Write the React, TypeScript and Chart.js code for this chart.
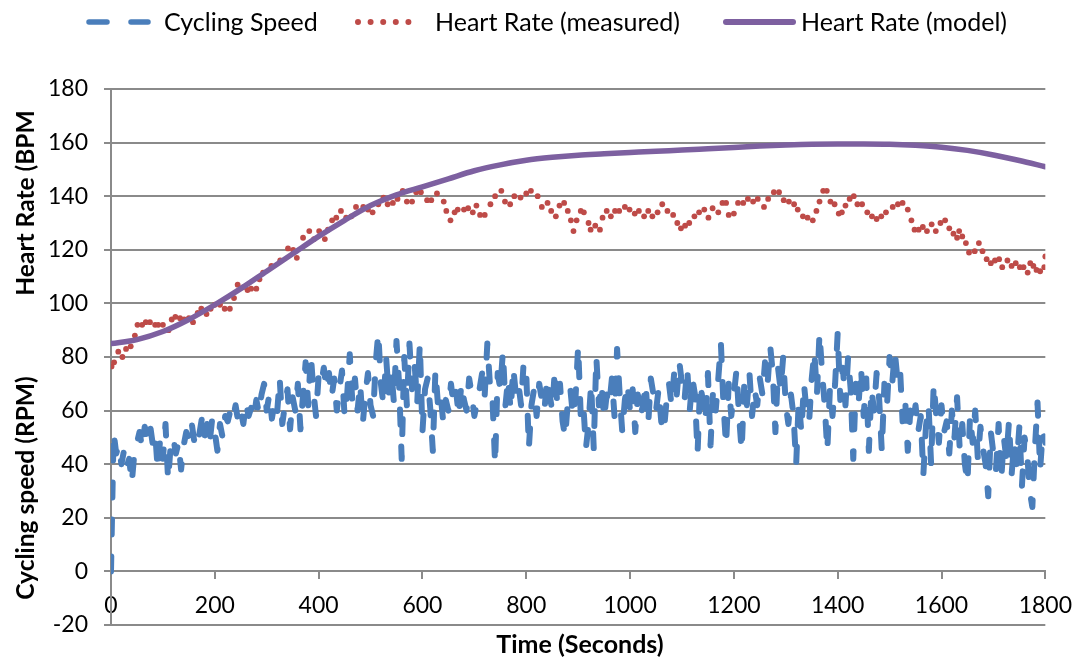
import React, { useEffect, useRef } from "react";
import { Chart, registerables } from "chart.js";

Chart.register(...registerables);

// ---------- DATA ----------
const speedStep = 5; // seconds between cycling-speed samples
const cyclingSpeed = [
  0, 52, 44, 47, 40, 45, 39, 42, 33, 44, 48, 52,
  46, 54, 50, 55, 48, 52, 38, 50, 42, 55, 34, 47,
  50, 44, 48, 38, 47, 52, 50, 56, 49, 54, 51, 57,
  50, 55, 48, 57, 52, 45, 55, 50, 58, 56, 60, 57,
  62, 56, 60, 55, 63, 58, 61, 57, 64, 59, 66, 70,
  60, 66, 57, 63, 59, 72, 55, 62, 68, 53, 65, 60,
  70, 53, 66, 78, 62, 81, 67, 58, 73, 70, 76, 68,
  74, 65, 72, 60, 68, 75, 58, 66, 81, 63, 72, 60,
  70, 55, 66, 74, 62, 58, 78, 89, 70, 62, 80, 66,
  75, 63, 86, 70, 42, 80, 62, 85, 68, 77, 63, 85,
  52, 68, 72, 61, 45, 75, 62, 66, 56, 64, 60, 70,
  62, 67, 58, 70, 64, 60, 72, 66, 58, 63, 68, 74,
  66, 85, 70, 64, 40, 74, 68, 82, 62, 72, 60, 76,
  66, 70, 62, 78, 74, 46, 62, 68, 58, 70, 64, 60,
  72, 66, 60, 75, 62, 70, 56, 50, 63, 68, 58, 65,
  84, 58, 62, 46, 55, 70, 46, 80, 62, 70, 57, 66,
  62, 72, 58, 83, 66, 52, 64, 70, 60, 68, 52, 66,
  58, 62, 70, 55, 72, 66, 60, 68, 56, 52, 63, 70,
  62, 74, 66, 78, 70, 64, 76, 60, 72, 66, 44, 70,
  64, 56, 74, 47, 68, 60, 72, 85, 62, 47, 70, 58,
  66, 75, 58, 45, 70, 62, 74, 58, 68, 62, 72, 66,
  78, 70, 84, 74, 52, 76, 68, 80, 62, 55, 66, 58,
  40, 64, 52, 70, 60, 56, 72, 82, 66, 89, 74, 62,
  45, 68, 58, 70, 89, 64, 76, 62, 80, 68, 42, 70,
  62, 76, 58, 72, 45, 68, 60, 74, 64, 45, 70, 62,
  80, 70, 82, 72, 76, 56, 64, 45, 60, 55, 62, 52,
  58, 36, 54, 62, 40, 70, 58, 48, 62, 52, 56, 44,
  60, 50, 65, 46, 55, 40, 33, 58, 48, 60, 42, 54,
  46, 40, 28, 52, 44, 38, 55, 34, 50, 42, 56, 36,
  48, 40, 54, 32, 50, 44, 30, 24, 46, 63, 38, 52,
  48,
];

const hrTimes = [
  1, 6, 14, 22, 29, 38, 46, 51, 60, 67, 75, 85, 91, 100, 111, 117, 124, 133, 141, 150,
  158, 167, 174, 184, 192, 200, 210, 219, 229, 237, 244, 254, 263, 270, 280, 286, 293,
  309, 326, 341, 351, 358, 370, 382, 391, 401, 412, 418, 426, 434, 443, 453, 463, 472,
  486, 495, 504, 515, 525, 533, 543, 552, 562, 570, 580, 588,
  597, 609, 617, 628, 641, 646, 654, 662, 668, 680, 688, 697, 704, 711, 720, 731, 740,
  752, 759, 769, 777, 789, 800, 809, 822, 830, 841, 848, 857, 864, 873, 880, 886, 891,
  897, 905, 911, 920, 924, 933, 942, 947, 955, 963, 971, 979, 990, 999, 1009, 1017,
  1027, 1035, 1043, 1053, 1062, 1072, 1083, 1091, 1098, 1106, 1114, 1124, 1133, 1143,
  1151, 1159, 1170, 1178, 1185,
  1190, 1200, 1208, 1218, 1227, 1237, 1246, 1258, 1266, 1277, 1287, 1296, 1306, 1316,
  1323, 1333, 1342, 1352, 1359, 1365, 1372, 1379, 1386, 1394, 1402, 1408, 1415, 1423,
  1431, 1438, 1447, 1457, 1466, 1475, 1484,
  1493, 1506, 1516, 1525, 1535, 1542, 1548, 1556, 1564, 1572, 1581, 1589, 1598, 1607,
  1615, 1623, 1630, 1634, 1640, 1647, 1653, 1664, 1672, 1679, 1687, 1695, 1703, 1711,
  1717, 1727, 1735, 1743, 1751, 1758, 1766, 1771, 1777, 1783, 1790, 1798, 1800,
];

const hrMeasured = [
  76.5, 78, 82, 80, 83, 84, 88, 92, 92, 93, 93, 92, 92, 92, 90, 94, 95, 94.5, 94, 94.5,
  93, 96.5, 98, 96, 98, 99.5, 99.5, 98, 98, 102, 107, 106, 105, 105.5, 105.5, 109, 111.5,
  114, 116, 120.5, 120, 117, 124.5, 127, 124, 127, 124, 127.5, 131, 132, 134.5, 132, 132.5, 136,
  136, 135, 134, 137, 139.5, 137, 137.5, 139, 142, 138, 138, 141.5,
  141.5, 138.5, 138.5, 141, 138, 134.5, 131, 134, 135, 135, 135.5, 134, 136.5, 133, 133, 137, 140,
  142, 138, 137, 140, 139.5, 141, 142, 140, 136, 137.5, 134.5, 132.5, 136.5, 137.5, 134.5, 131, 127,
  131, 134.5, 134, 130, 127.5, 129, 127.5, 132, 134.5, 132.5, 134.5, 134.5, 136, 135, 133.5, 134.5,
  132.5, 134.5, 132.5, 134, 137, 134.5, 133, 130, 128, 129, 130, 132.5, 134, 135,
  132, 135.5, 134, 137.5, 137.5,
  133, 133.5, 137.5, 137.5, 139, 138, 139, 136, 139, 141.5, 141.5, 138.5, 138, 137,
  135, 132.5, 132, 131, 134.5, 138, 142, 142, 138, 137, 133.5, 134, 136.5, 139,
  140, 137, 137, 134, 132.5, 131.5, 132.5,
  134, 136, 137, 137.5, 135, 131, 127.5, 127.5, 128.5, 127, 129.5, 127, 130, 131,
  128, 126, 124.5, 127, 125, 122.5, 119, 119.5, 122.5, 119.5, 116.5, 115, 116, 116.5,
  113.5, 116, 114, 115, 113.5, 113.5, 111.5, 115, 114, 112.5, 112, 113.5, 117.5,
];

const modelTimes = [
  0, 50, 100, 150, 200, 250, 300, 350, 400, 450, 500, 550, 600, 650, 700, 750, 800, 850, 900,
  950, 1000, 1050, 1100, 1150, 1200, 1250, 1300, 1350, 1400, 1450, 1500, 1550, 1600, 1650,
  1700, 1750, 1800,
];
const hrModel = [
  85, 86.5, 89.5, 94, 99.5, 105.5, 112, 118.5, 125, 131, 136.5, 140.5, 143.5, 146.5, 149.5,
  151.7, 153.4, 154.5, 155.3, 155.8, 156.3, 156.8, 157.2, 157.7, 158.2, 158.7, 159.1, 159.4,
  159.5, 159.5, 159.4, 159.0, 158.3, 157.1, 155.4, 153.3, 151,
];

const seriesNames = ["Cycling Speed", "Heart Rate (measured)", "Heart Rate (model)"];
const yTitleUpper = "Heart Rate (BPM";
const yTitleLower = "Cycling speed (RPM)";
const xTitle = "Time (Seconds)";

const BLUE = "#4A7EBB";
const RED = "#BE4B48";
const PURPLE = "#7D60A0";
const GRID = "#8A8A8A";
const FONT = "Lato";

const decorPlugin = {
  id: "decor",
  afterDraw(chart: any) {
    const ctx = chart.ctx;
    ctx.save();
    // legend
    const items = [
      { x0: 89, x1: 148, tx: 164, color: BLUE, width: 5.5, dash: [18, 24] },
      { x0: 358, x1: 421, tx: 435, color: RED, width: 6, dash: [0, 12.6] },
      { x0: 726, x1: 793, tx: 801, color: PURPLE, width: 6, dash: [] as number[] },
    ];
    const ly = 22;
    items.forEach((it, i) => {
      ctx.beginPath();
      ctx.strokeStyle = it.color;
      ctx.lineWidth = it.width;
      ctx.lineCap = "round";
      ctx.setLineDash(it.dash);
      ctx.moveTo(it.x0, ly);
      ctx.lineTo(it.x1, ly);
      ctx.stroke();
      ctx.setLineDash([]);
      ctx.fillStyle = "#000";
      ctx.font = `25px ${FONT}`;
      ctx.textAlign = "left";
      ctx.textBaseline = "middle";
      ctx.fillText(chart.data.datasets[i].label, it.tx, ly + 1);
    });
    // axis titles
    ctx.fillStyle = "#000";
    ctx.font = `bold 24.5px ${FONT}`;
    ctx.textAlign = "center";
    ctx.textBaseline = "middle";
    const drawRot = (t: string, x: number, y: number) => {
      ctx.save();
      ctx.translate(x, y);
      ctx.rotate(-Math.PI / 2);
      ctx.fillText(t, 0, 0);
      ctx.restore();
    };
    drawRot(yTitleUpper, 26, 203);
    drawRot(yTitleLower, 26, 488);
    ctx.font = `bold 25px ${FONT}`;
    ctx.fillText(xTitle, 580, 645);
    ctx.restore();
  },
};

export default function App() {
  const ref = useRef<HTMLCanvasElement>(null);
  useEffect(() => {
    if (!ref.current) return;
    const chart = new Chart(ref.current, {
      type: "line",
      data: {
        datasets: [
          {
            label: seriesNames[0],
            data: cyclingSpeed.map((v, i) => ({ x: i * speedStep, y: v })),
            borderColor: BLUE,
            backgroundColor: BLUE,
            borderWidth: 6,
            borderDash: [15, 22],
            borderCapStyle: "round",
            borderJoinStyle: "round",
            pointRadius: 0,
            tension: 0,
            order: 3,
          },
          {
            label: seriesNames[1],
            data: hrTimes.map((t, i) => ({ x: t, y: hrMeasured[i] })),
            showLine: false,
            pointRadius: 2.9,
            pointBorderWidth: 0,
            pointBackgroundColor: RED,
            borderColor: RED,
            backgroundColor: RED,
            order: 2,
          },
          {
            label: seriesNames[2],
            data: modelTimes.map((t, i) => ({ x: t, y: hrModel[i] })),
            borderColor: PURPLE,
            backgroundColor: PURPLE,
            borderWidth: 5.5,
            borderCapStyle: "round",
            pointRadius: 0,
            cubicInterpolationMode: "monotone",
            order: 1,
          },
        ],
      },
      options: {
        responsive: false,
        animation: false,
        layout: { padding: { top: 89, left: 0, right: 34, bottom: 33 } },
        plugins: { legend: { display: false }, tooltip: { enabled: false } },
        scales: {
          x: {
            type: "linear",
            min: 0,
            max: 1800,
            position: { y: 0 } as any,
            ticks: {
              stepSize: 200,
              color: "#000",
              font: { family: FONT, size: 23 },
              padding: 13,
              maxRotation: 0,
              callback: (v: any) => String(v),
            },
            grid: { drawOnChartArea: false, drawTicks: true, tickLength: 7, color: GRID, lineWidth: 2 },
            border: { display: true, color: GRID, width: 2 },
          },
          y: {
            type: "linear",
            min: -20,
            max: 180,
            ticks: {
              stepSize: 20,
              color: "#000",
              font: { family: FONT, size: 23 },
              padding: 16,
            },
            grid: { color: GRID, lineWidth: 2, tickLength: 7, drawTicks: true },
            border: { display: true, color: GRID, width: 2 },
            afterFit: (s: any) => {
              s.width = 111;
            },
          },
        },
      },
      plugins: [decorPlugin],
    } as any);
    return () => chart.destroy();
  }, []);
  return (
    <div style={{ position: "fixed", left: 0, top: 0, width: 1085, height: 658, background: "#fff" }}>
      <canvas ref={ref} width={1085} height={658} style={{ display: "block" }} />
    </div>
  );
}
